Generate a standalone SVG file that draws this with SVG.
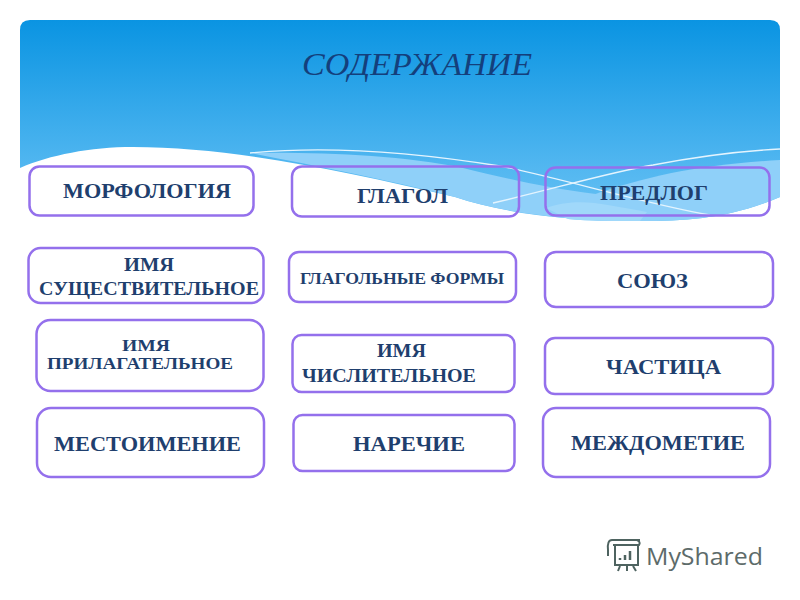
<svg xmlns="http://www.w3.org/2000/svg" width="800" height="600" viewBox="0 0 800 600">
<defs>
<linearGradient id="sky" x1="0" y1="20" x2="0" y2="225" gradientUnits="userSpaceOnUse">
<stop offset="0" stop-color="#0a94e2"/><stop offset="0.7" stop-color="#50b6f0"/><stop offset="1" stop-color="#6cc3f4"/>
</linearGradient>
<style>
.box{fill:#fff;stroke:#9470ec;stroke-width:2.5}
.clear{fill:none;stroke:#9470ec;stroke-width:2.5}
.t{font-family:"Liberation Serif",serif;font-weight:bold;fill:#1f3f6e}
.swoosh{fill:none;stroke:#e4f4fe;stroke-width:1.3}
.light{fill:#8fd0f9}
</style>
</defs>
<g id="background">
<path d="M20 30Q20 20 30 20H770Q780 20 780 30V197C730 218 690 221 640 221C560 221 500 212 455 197C340 170 230 147 133 147C90 147 50 155 20 168Z" fill="url(#sky)"/>
<path d="M250 153C320 152 400 155 463 168C500 177 545 188 596 194L610 221C560 219 500 212 455 197C380 178 310 165 250 153Z" class="light"/>
<path d="M780 160C700 165 650 175 590 196L568 219C590 221 615 221 640 221C690 221 730 218 780 197Z" class="light"/>
<path d="M546 208C580 197 600 204 647 212L640 221C615 221 590 221 568 219Z" fill="#a0d8fa"/>
<path class="swoosh" d="M250 153C320 146 400 150 500 166C560 178 650 205 710 215"/>
<path class="swoosh" d="M493 203C550 190 610 172 653 165C700 156 740 151 780 149"/>
</g>
<g id="title"><text x="302" y="75" font-family="'Liberation Serif',serif" font-style="italic" font-size="31" fill="#143f7c" textLength="230" lengthAdjust="spacingAndGlyphs">СОДЕРЖАНИЕ</text></g>
<g id="connectors"/>
<g id="morfologiya"><rect class="clear" x="29.5" y="166.5" width="224" height="49" rx="10"/><text class="t" x="63" y="198" font-size="20" textLength="168" lengthAdjust="spacingAndGlyphs">МОРФОЛОГИЯ</text></g>
<g id="glagol"><rect class="clear" x="292" y="166.5" width="227" height="50" rx="10"/><text class="t" x="357" y="203" font-size="20" textLength="91" lengthAdjust="spacingAndGlyphs">ГЛАГОЛ</text></g>
<g id="predlog"><rect class="clear" x="545.5" y="167.5" width="224" height="48" rx="10"/><text class="t" x="600" y="200" font-size="20" textLength="108" lengthAdjust="spacingAndGlyphs">ПРЕДЛОГ</text></g>
<g id="sushchestvitelnoe"><rect class="box" x="28.5" y="248" width="235" height="55" rx="12"/><text class="t" x="124" y="271" font-size="18.5" textLength="50" lengthAdjust="spacingAndGlyphs">ИМЯ</text><text class="t" x="39" y="295" font-size="18.5" textLength="220" lengthAdjust="spacingAndGlyphs">СУЩЕСТВИТЕЛЬНОЕ</text></g>
<g id="glagolnye-formy"><rect class="box" x="289" y="252" width="227" height="50" rx="10"/><text class="t" x="300" y="284" font-size="16" textLength="204" lengthAdjust="spacingAndGlyphs">ГЛАГОЛЬНЫЕ  ФОРМЫ</text></g>
<g id="soyuz"><rect class="box" x="545" y="252" width="228" height="55" rx="11"/><text class="t" x="617" y="288" font-size="20" textLength="71" lengthAdjust="spacingAndGlyphs">СОЮЗ</text></g>
<g id="prilagatelnoe"><rect class="box" x="36.5" y="320" width="227" height="71" rx="14"/><text class="t" x="122" y="351" font-size="16" textLength="48" lengthAdjust="spacingAndGlyphs">ИМЯ</text><text class="t" x="47" y="369" font-size="16" textLength="186" lengthAdjust="spacingAndGlyphs">ПРИЛАГАТЕЛЬНОЕ</text></g>
<g id="chislitelnoe"><rect class="box" x="292.5" y="335" width="222" height="57" rx="9"/><text class="t" x="377" y="357" font-size="18.5" textLength="49" lengthAdjust="spacingAndGlyphs">ИМЯ</text><text class="t" x="302" y="382" font-size="18.5" textLength="174" lengthAdjust="spacingAndGlyphs">ЧИСЛИТЕЛЬНОЕ</text></g>
<g id="chastitsa"><rect class="box" x="545" y="338" width="228" height="56" rx="10"/><text class="t" x="606" y="374" font-size="20" textLength="115" lengthAdjust="spacingAndGlyphs">ЧАСТИЦА</text></g>
<g id="mestoimenie"><rect class="box" x="37" y="408" width="227" height="69" rx="14"/><text class="t" x="54" y="451" font-size="20" textLength="187" lengthAdjust="spacingAndGlyphs">МЕСТОИМЕНИЕ</text></g>
<g id="narechie"><rect class="box" x="293.5" y="415" width="221" height="56" rx="9"/><text class="t" x="353" y="451" font-size="20" textLength="112" lengthAdjust="spacingAndGlyphs">НАРЕЧИЕ</text></g>
<g id="mezhdometie"><rect class="box" x="543" y="408" width="227" height="69" rx="13"/><text class="t" x="571" y="450" font-size="20" textLength="174" lengthAdjust="spacingAndGlyphs">МЕЖДОМЕТИЕ</text></g>
<g id="logo" fill="none" stroke="#4e6360" stroke-width="2">
<path d="M612 540H640M615 545V565H638V545M612 540Q607 540 608 550V556M637 540Q641 542 639 545H613"/>
<path d="M620 566L618 571M627 566V571M633 566L636 571"/>
<path d="M620 560V558M625 560V555M630 560V551" stroke-width="2.5"/>
<text x="646" y="565" font-family="'Open Sans',sans-serif" font-size="24" fill="#5d6b6a" stroke="none" textLength="117" lengthAdjust="spacingAndGlyphs">MyShared</text>
</g>
</svg>
